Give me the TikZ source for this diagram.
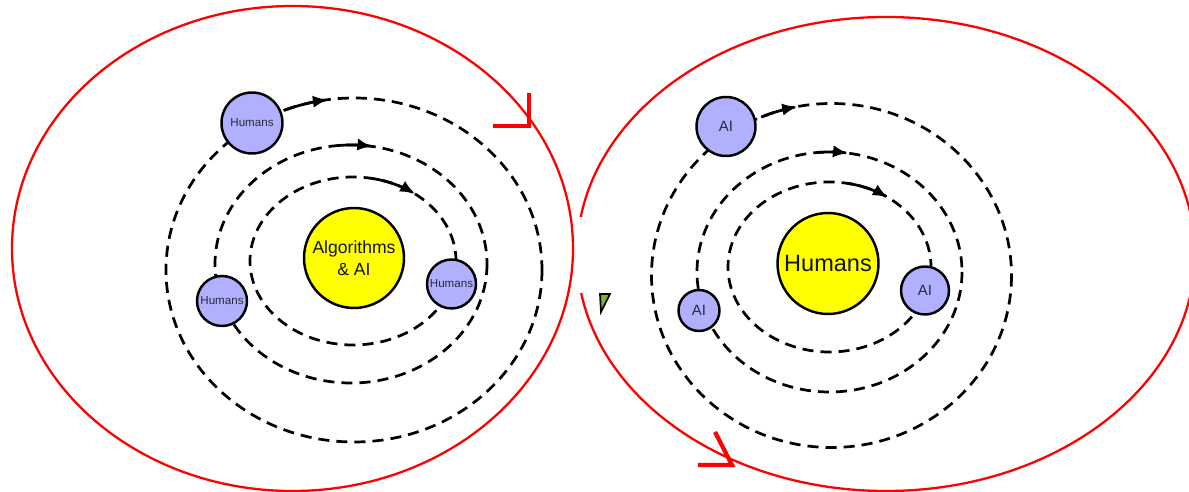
\documentclass[tikz,border=0pt]{standalone}
\usepackage{fontspec}
\setmainfont{Liberation Sans}
\usetikzlibrary{arrows.meta}
\definecolor{planetblue}{HTML}{B0B0FF}
\definecolor{sunyellow}{HTML}{FFFF00}
\definecolor{framered}{HTML}{FF0000}
\definecolor{lbl}{HTML}{2B2B3A}
\definecolor{artgreen}{HTML}{7FB03A}
\begin{document}
\begin{tikzpicture}[x=0.02cm,y=-0.02cm,
  orbit/.style={draw=black, line width=1.55pt, dash pattern=on 6.3pt off 4pt},
  flow/.style={draw=black, line width=1.55pt, -{Latex[length=8.5pt,width=7pt]}},
  planet/.style={circle, draw=black, line width=1.4pt, fill=planetblue, inner sep=0pt, text=lbl},
  sun/.style={circle, draw=black, line width=1.4pt, fill=sunyellow, inner sep=0pt, align=center, text=black!92},
  frame/.style={draw=framered, line width=1.3pt},
  redmark/.style={draw=framered, line width=2.4pt, line cap=butt, line join=miter}]
\useasboundingbox (0,0) rectangle (1189,492);
\fill[white] (0,0) rectangle (1189,492);

% frames
\draw[frame] (886,254) ellipse [x radius=309, y radius=237];
\fill[white] (575.5,217) rectangle (592,293);
\draw[frame] (292.5,248.5) ellipse [x radius=280.5, y radius=242.5];

% small artifact
\filldraw[fill=artgreen, draw=black, line width=1pt] (600,294) -- (610,294) -- (601,312) -- cycle;

% left orbits
\draw[orbit] (354,270) ellipse [x radius=188, y radius=172];
\draw[orbit] (351,264) ellipse [x radius=136, y radius=119];
\draw[orbit] (353,261) ellipse [x radius=103, y radius=84];
\draw[flow] plot[domain=248:262, samples=15, variable=\t] ({354+188*cos(\t)},{270+172*sin(\t)});
\draw[flow] plot[domain=264:279, samples=15, variable=\t] ({351+136*cos(\t)},{264+119*sin(\t)});
\draw[flow] plot[domain=280:307, samples=15, variable=\t] ({353+103*cos(\t)},{261+84*sin(\t)});

% right orbits
\draw[orbit] (831.5,275.5) ellipse [x radius=180, y radius=172];
\draw[orbit] (829.5,272) ellipse [x radius=132.5, y radius=120];
\draw[orbit] (829.5,267) ellipse [x radius=101.5, y radius=85];
\draw[flow] plot[domain=247:259, samples=15, variable=\t] ({831.5+180*cos(\t)},{275.5+172*sin(\t)});
\draw[flow] plot[domain=265:278, samples=15, variable=\t] ({829.5+132.5*cos(\t)},{272+120*sin(\t)});
\draw[flow] plot[domain=280:305, samples=15, variable=\t] ({829.5+101.5*cos(\t)},{267+85*sin(\t)});

% left nodes
\node[sun, minimum size=2.0cm, font=\fontsize{10}{12.5}\selectfont] (sunL) at (354,258) {Algorithms\\\& AI};
\node[planet, minimum size=1.22cm, font=\fontsize{6.6}{8}\selectfont] (hTop) at (252,123) {Humans};
\node[planet, minimum size=1.0cm, font=\fontsize{6.6}{8}\selectfont] (hLeft) at (222,301) {Humans};
\node[planet, minimum size=0.98cm, font=\fontsize{6.6}{8}\selectfont] (hRight) at (451.5,284) {Humans};

% right nodes
\node[sun, minimum size=2.02cm, font=\fontsize{13.4}{16}\selectfont] (sunR) at (828,263.5) {Humans};
\node[planet, minimum size=1.18cm, font=\fontsize{8.5}{10}\selectfont] (aiTop) at (726,126.5) {AI};
\node[planet, minimum size=0.82cm, font=\fontsize{8.5}{10}\selectfont] (aiLeft) at (699,310.5) {AI};
\node[planet, minimum size=0.96cm, font=\fontsize{8.5}{10}\selectfont] (aiRight) at (925,290.5) {AI};

% red direction marks
\draw[redmark] (529,93) -- (529,126) -- (493,126);
\draw[redmark] (715,432) -- (732,465) -- (698,465);
\end{tikzpicture}
\end{document}
